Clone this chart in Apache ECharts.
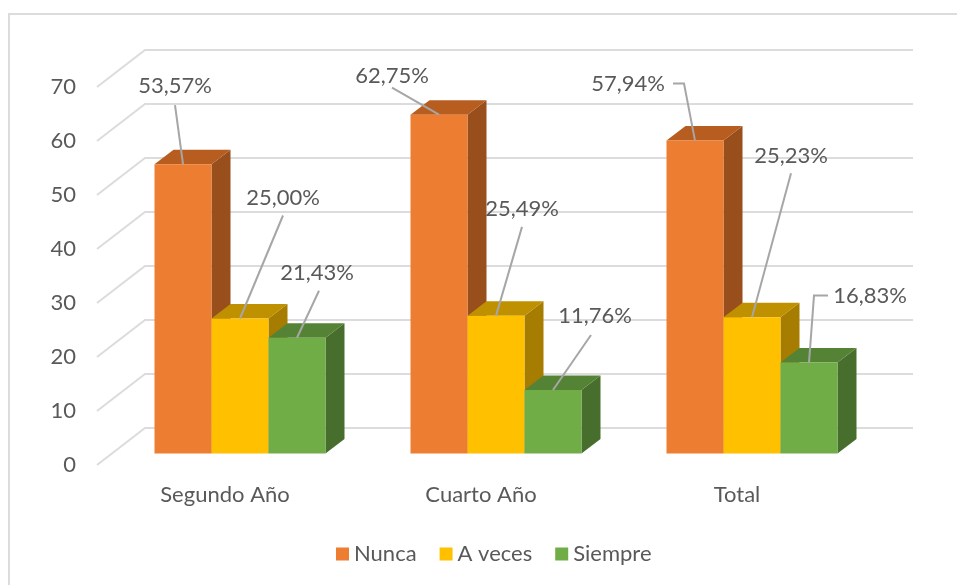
<!DOCTYPE html>
<html>
<head>
<meta charset="utf-8">
<style>html,body{margin:0;padding:0;background:#fff;overflow:hidden}#c{width:957px;height:585px}</style>
<script src="https://cdn.jsdelivr.net/npm/echarts@6/dist/echarts.min.js"></script>
</head>
<body>
<div id="c"></div>
<script>
const categories = ['Segundo Año', 'Cuarto Año', 'Total'];
const seriesNames = ['Nunca', 'A veces', 'Siempre'];
const nunca = [53.57, 62.75, 57.94];
const aVeces = [25.00, 25.49, 25.23];
const siempre = [21.43, 11.76, 16.83];
const yTicks = [0, 10, 20, 30, 40, 50, 60, 70];

// Styling and layout, apart from the values
const faceColors = [
  { front: '#ED7D31', top: '#B85D20', side: '#984F1C' },
  { front: '#FFC000', top: '#BF9000', side: '#A67D00' },
  { front: '#70AD47', top: '#558335', side: '#486E2E' }
];
const wallDepth = [48, -37];   // front plane to back wall
const barInset = [15, -11.5];  // front plane to front of the bars
const barDepth = [19, -14.5];
const barRatio = 57 / 256;
const textColor = '#595959';
// label centre and leader bend points, relative to the front-top centre of each bar
const annotations = [
  [{ l: [-8, -78], p: [[-8, -59]] }, { l: [-47, -39], p: [[-47, -27]] }, { l: [-67, -57], p: [[-22, -57], [-11, -57]] }],
  [{ l: [43, -121], p: [[43, -103]] }, { l: [26, -107], p: [[26, -89]] }, { l: [39, -161], p: [[39, -144]] }],
  [{ l: [20, -65], p: [[22, -47]] }, { l: [42, -74], p: [[38, -55]] }, { l: [61, -67], p: [[19, -67], [5, -67]] }]
];

const seriesValues = [nunca, aVeces, siempre];

function barFrontCentre(api, params, s) {
  const band = api.size([1, 0])[0];
  const w = band * barRatio;
  const c = api.coord([api.value(0), api.value(1)]);
  return { cx: c[0] + barInset[0] + (s - 1) * w, top: c[1] + barInset[1], w: w };
}

function renderWall(params, api) {
  const cs = params.coordSys;
  const y = api.coord([0, api.value(1)])[1];
  const bx = cs.x + wallDepth[0], by = y + wallDepth[1];
  const style = { stroke: '#DCDCDC', lineWidth: 2, fill: null };
  return {
    type: 'group',
    children: [
      { type: 'polyline', shape: { points: [[cs.x, y], [bx, by], [cs.x + cs.width + wallDepth[0], by]] }, style: style }
    ]
  };
}

function renderBar(s) {
  return function (params, api) {
    const b = barFrontCentre(api, params, s);
    const base = api.coord([api.value(0), 0])[1] + barInset[1];
    const x0 = b.cx - b.w / 2, x1 = b.cx + b.w / 2, y0 = b.top;
    const dx = barDepth[0], dy = barDepth[1];
    const c = faceColors[s];
    return {
      type: 'group',
      children: [
        { type: 'polygon', shape: { points: [[x1, y0], [x1 + dx, y0 + dy], [x1 + dx, base + dy], [x1, base]] }, style: { fill: c.side } },
        { type: 'polygon', shape: { points: [[x0, y0], [x0 + dx, y0 + dy], [x1 + dx, y0 + dy], [x1, y0]] }, style: { fill: c.top } },
        { type: 'rect', shape: { x: x0, y: y0, width: b.w, height: base - y0 }, style: { fill: c.front } }
      ]
    };
  };
}

function renderLabel(params, api) {
  const s = api.value(2);
  const cat = api.value(0);
  const b = barFrontCentre(api, params, s);
  const a = annotations[s][cat];
  const pts = a.p.map(p => [b.cx + p[0], b.top + p[1]]);
  pts.push([b.cx, b.top]);
  return {
    type: 'group',
    children: [
      { type: 'polyline', shape: { points: pts }, style: { stroke: '#A6A6A6', lineWidth: 2, fill: null } },
      { type: 'text', x: b.cx + a.l[0], y: b.top + a.l[1], style: {
          text: api.value(1).toFixed(2).replace('.', ',') + '%',
          fill: textColor, font: '22px Lato', align: 'center', verticalAlign: 'middle' } }
    ]
  };
}

const labelData = [];
seriesValues.forEach((vals, s) => vals.forEach((v, i) => labelData.push([i, v, s])));

const chart = echarts.init(document.getElementById('c'), null, { renderer: 'canvas' });
chart.setOption({
  animation: false,
  backgroundColor: '#fff',
  graphic: [{ type: 'rect', silent: true, shape: { x: 9, y: 14, width: 1000, height: 1000 }, style: { fill: null, stroke: '#DCDCDC', lineWidth: 2 } }],
  grid: { left: 97, top: 87, width: 768, height: 378, containLabel: false },
  xAxis: {
    type: 'category', data: categories,
    axisLine: { show: false }, axisTick: { show: false }, splitLine: { show: false },
    axisLabel: { color: textColor, fontFamily: 'Lato', fontSize: 22, margin: 19 }
  },
  yAxis: {
    type: 'value', min: 0, max: 70, interval: 10,
    axisLine: { show: false }, axisTick: { show: false }, splitLine: { show: false },
    axisLabel: { color: textColor, fontFamily: 'Lato', fontSize: 22, margin: 21, padding: [3, 0, 0, 0] }
  },
  legend: {
    data: seriesNames, top: 538, left: 331,
    itemWidth: 13, itemHeight: 13, itemGap: 23, icon: 'rect',
    textStyle: { color: textColor, fontFamily: 'Lato', fontSize: 22 }
  },
  series: [
    { type: 'custom', z: 1, silent: true, data: yTicks.map(t => [0, t]), renderItem: renderWall },
    ...seriesNames.map((name, s) => ({
      type: 'custom', name: name, z: 2 + s, itemStyle: { color: faceColors[s].front },
      data: seriesValues[s].map((v, i) => [i, v]),
      renderItem: renderBar(s)
    })),
    { type: 'custom', z: 6, silent: true, data: labelData, renderItem: renderLabel }
  ]
});
</script>
</body>
</html>
